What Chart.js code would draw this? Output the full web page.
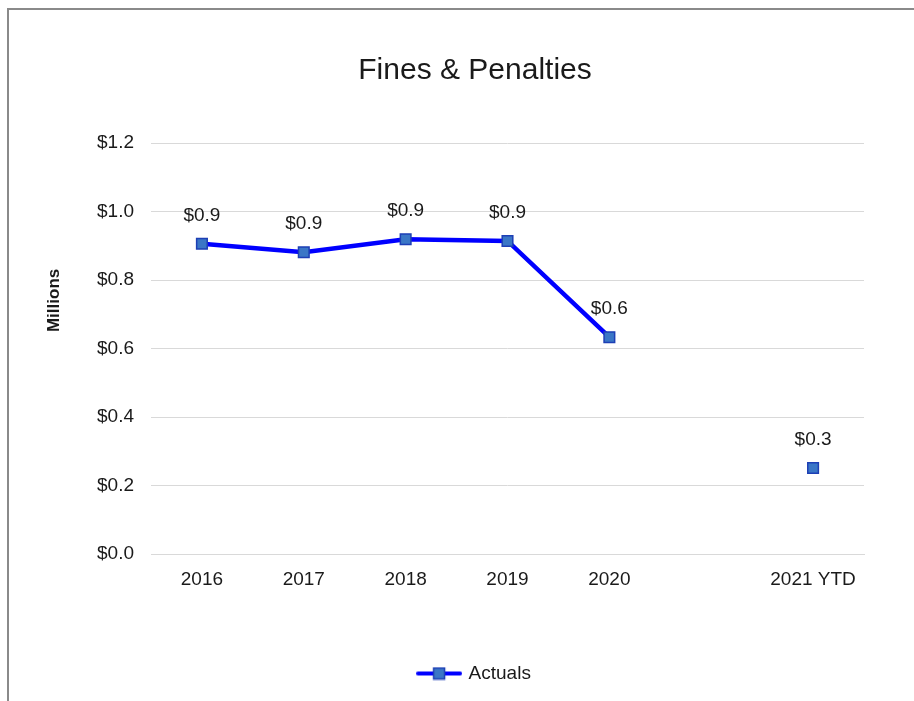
<!DOCTYPE html>
<html>
<head>
<meta charset="utf-8">
<title>Fines &amp; Penalties</title>
<script src="https://cdn.jsdelivr.net/npm/chart.js@4/dist/chart.umd.min.js"></script>
<style>
  html, body { margin: 0; padding: 0; background: #fff; overflow: hidden; }
  #frame {
    position: absolute; left: 7px; top: 8px; right: -10px; bottom: -10px;
    border-left: 2px solid #8a8a8a; border-top: 2px solid #8a8a8a;
  }
  #wrap { position: absolute; left: 0; top: 0; width: 914px; height: 701px; }
</style>
</head>
<body>
<div id="frame"></div>
<div id="wrap"><canvas id="chart" width="914" height="701"></canvas></div>
<script>
// ------------------------
// DATA
// ------------------------
const years = ["2016", "2017", "2018", "2019", "2020", "", "2021 YTD"];
const actuals = [0.906, 0.881, 0.919, 0.914, 0.633, null, 0.251];
const yTicks = [0, 0.2, 0.4, 0.6, 0.8, 1.0, 1.2];

const FONT = "'Liberation Sans', Arial, Helvetica, sans-serif";
const TEXT = "#1a1a1a";
const LINE = "#0000ff";
const MARK_FILL = "#3a76c6";
const MARK_EDGE = "#1d3fb5";

const money = v => "$" + Number(v).toFixed(1);

// legend swatch: line with a square marker in the middle
function legendSwatch(){
  const c = document.createElement("canvas");
  c.width = 46; c.height = 14;
  const g = c.getContext("2d");
  g.strokeStyle = LINE;
  g.lineWidth = 4;
  g.lineCap = "round";
  g.beginPath(); g.moveTo(2, 7); g.lineTo(44, 7); g.stroke();
  g.fillStyle = MARK_FILL;
  g.strokeStyle = MARK_EDGE;
  g.lineWidth = 1.5;
  g.fillRect(17.5, 1.5, 11, 11);
  g.strokeRect(17.5, 1.5, 11, 11);
  return c;
}

// value labels above each point
const valueLabels = {
  id: "valueLabels",
  afterDatasetsDraw(chart){
    const ctx = chart.ctx;
    const meta = chart.getDatasetMeta(0);
    ctx.save();
    ctx.font = "19px " + FONT;
    ctx.fillStyle = TEXT;
    ctx.textAlign = "center";
    ctx.textBaseline = "middle";
    meta.data.forEach((pt, i) => {
      const v = actuals[i];
      if (v === null) return;
      ctx.fillText(money(v), pt.x, pt.y - 28);
    });
    ctx.restore();
  }
};

// rotated "Millions" title left of the value axis
const axisTitle = {
  id: "axisTitle",
  afterDraw(chart){
    const a = chart.chartArea;
    const ctx = chart.ctx;
    ctx.save();
    ctx.translate(a.left - 97, a.top + (a.bottom - a.top) * 0.383);
    ctx.rotate(-Math.PI / 2);
    ctx.font = "bold 17px " + FONT;
    ctx.fillStyle = TEXT;
    ctx.textAlign = "center";
    ctx.textBaseline = "middle";
    ctx.fillText("Millions", 0, 0);
    ctx.restore();
  }
};

new Chart(document.getElementById("chart"), {
  type: "line",
  data: {
    labels: years,
    datasets: [{
      label: "Actuals",
      data: actuals,
      borderColor: LINE,
      borderWidth: 4.5,
      backgroundColor: MARK_FILL,
      pointStyle: "rect",
      pointRadius: 7.5,
      pointBackgroundColor: MARK_FILL,
      pointBorderColor: MARK_EDGE,
      pointBorderWidth: 1.5,
      spanGaps: false,
      tension: 0
    }]
  },
  options: {
    responsive: false,
    animation: false,
    events: [],
    layout: { padding: { left: 36, right: 0, top: 0, bottom: 8 } },
    plugins: {
      title: {
        display: true,
        text: "Fines & Penalties",
        color: TEXT,
        font: { family: FONT, size: 30, weight: "normal" },
        padding: { top: 53, bottom: 54 }
      },
      legend: {
        position: "bottom",
        labels: {
          usePointStyle: true,
          pointStyle: legendSwatch(),
          pointStyleWidth: 40,
          boxHeight: 19,
          color: TEXT,
          font: { family: FONT, size: 19 },
          padding: 10
        }
      },
      tooltip: { enabled: false }
    },
    scales: {
      x: {
        offset: true,
        grid: { display: false, drawTicks: false },
        border: { display: true, color: "#d9d9d9", width: 1 },
        ticks: {
          color: TEXT,
          font: { family: FONT, size: 19 },
          padding: 14,
          maxRotation: 0,
          autoSkip: false
        },
        afterFit(scale){
          scale.height = 100;
          scale.paddingRight = 50;
        }
      },
      y: {
        min: 0,
        max: 1.2,
        afterBuildTicks(scale){
          scale.ticks = yTicks.map(v => ({ value: v }));
        },
        grid: { color: "#d9d9d9", lineWidth: 1, drawTicks: false },
        border: { display: false },
        ticks: {
          color: TEXT,
          font: { family: FONT, size: 19 },
          padding: 17,
          callback: v => money(v)
        },
        afterFit(scale){
          scale.width = 115;
        }
      }
    }
  },
  plugins: [valueLabels, axisTitle]
});
</script>
</body>
</html>
